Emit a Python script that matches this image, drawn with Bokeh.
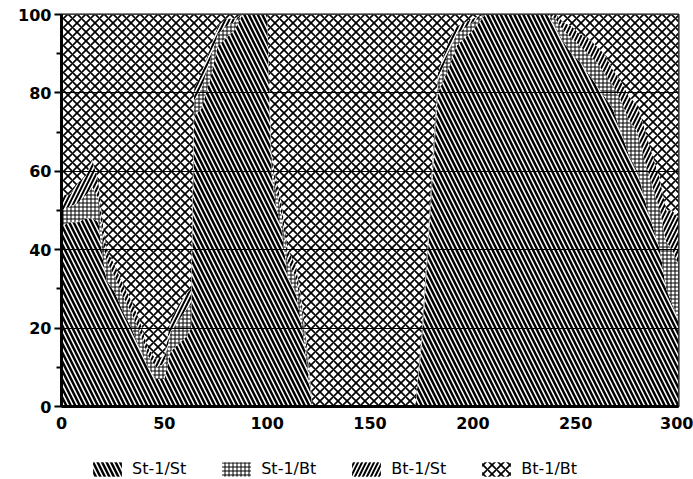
from bokeh.plotting import figure
from bokeh.models import ColumnDataSource, Legend, LegendItem, FixedTicker
from bokeh.layouts import column
from bokeh.transform import stack
from bokeh.embed import file_html
from bokeh.resources import INLINE

# ---- data (percent shares) ----
x = [0, 4, 8, 12, 15, 18, 20, 22, 26, 30, 34, 38, 42, 46, 50, 53, 57, 61, 63,
     64.5, 68, 72, 76, 80, 84, 88, 100, 102, 104, 107, 110, 114, 117, 120, 122,
     172, 175, 178, 180, 183, 188, 192, 200, 206, 236, 240, 244, 248, 252, 256,
     260, 264, 268, 272, 276, 280, 284, 288, 291, 294, 297, 300]
st_st = [46, 47, 47, 48, 48, 47, 38, 32, 29, 24, 20, 15, 10, 7, 7, 14, 16, 18, 20,
         74, 76, 83, 92, 94, 96, 100, 100, 60, 52, 45, 33, 29, 20, 8, 0,
         0, 15, 38, 55, 80, 86, 92, 96, 100, 100, 97, 93, 90, 88, 85,
         82, 79, 76, 70, 64, 60, 52, 45, 40, 30, 26, 22]
st_bt = [4, 4, 5, 6, 8, 6, 5, 5, 4, 4, 4, 4, 3, 3, 4, 5, 6, 7, 6,
         4, 5, 5, 3, 3, 2, 0, 0, 3, 4, 4, 4, 4, 4, 3, 0,
         0, 2, 2, 3, 3, 4, 3, 2, 0, 0, 2, 3, 4, 4, 5,
         6, 6, 6, 8, 9, 10, 10, 10, 10, 12, 14, 14]
bt_st = [4, 3, 5, 5, 7, 4, 4, 3, 3, 3, 3, 3, 2, 2, 2, 3, 4, 4, 4,
         3, 4, 3, 2, 2, 1, 0, 0, 2, 3, 3, 3, 3, 2, 2, 0,
         0, 1, 2, 2, 2, 3, 2, 1, 0, 0, 1, 2, 3, 3, 4,
         4, 5, 4, 5, 6, 7, 8, 8, 8, 8, 10, 12]
bt_bt = [46, 46, 43, 41, 37, 43, 53, 60, 64, 69, 73, 78, 85, 88, 87, 78, 74, 71, 70,
         19, 15, 9, 3, 1, 1, 0, 0, 35, 41, 48, 60, 64, 74, 87, 100,
         100, 82, 58, 40, 15, 7, 3, 1, 0, 0, 0, 2, 3, 5, 6,
         8, 10, 14, 17, 21, 23, 30, 37, 42, 50, 50, 52]
series = ["st_st", "st_bt", "bt_st", "bt_bt"]
labels = ["St-1/St", "St-1/Bt", "Bt-1/St", "Bt-1/Bt"]
x_ticks = [0, 50, 100, 150, 200, 250, 300]
y_ticks = [0, 20, 40, 60, 80, 100]

source = ColumnDataSource(dict(x=x, st_st=st_st, st_bt=st_bt, bt_st=bt_st, bt_bt=bt_bt))

p = figure(width=693, height=440, x_range=(0, 300), y_range=(0, 100),
           output_backend="svg", toolbar_location=None,
           min_border_left=61, min_border_top=14, min_border_right=15, min_border_bottom=34,
           background_fill_color="white", border_fill_color="white")

styles = [
    dict(hatch_pattern="\\", hatch_scale=9, hatch_weight=2.5),
    dict(hatch_pattern="+", hatch_scale=4, hatch_weight=1),
    dict(hatch_pattern="/", hatch_scale=8, hatch_weight=2),
    dict(hatch_pattern="x", hatch_scale=9, hatch_weight=1.7),
]
for i, name in enumerate(series):
    p.varea(x="x", y1=stack(*series[:i]) if i else 0, y2=stack(*series[:i + 1]),
            source=source, fill_color="white", hatch_color="black", **styles[i])

p.ygrid.level = "overlay"
p.ygrid.grid_line_color = "black"
p.ygrid.grid_line_width = 1
p.ygrid.ticker = FixedTicker(ticks=[20, 40, 60, 80])
p.xgrid.visible = False

p.outline_line_color = "black"
p.outline_line_width = 2

p.xaxis.ticker = FixedTicker(ticks=x_ticks)
p.yaxis.ticker = FixedTicker(ticks=y_ticks, minor_ticks=[10, 30, 50, 70, 90])
for ax in (p.xaxis[0], p.yaxis[0]):
    ax.major_label_text_font = "DejaVu Sans"
    ax.major_label_text_font_style = "bold"
    ax.major_label_text_font_size = "16px"
    ax.major_label_text_color = "black"
    ax.axis_line_color = "black"
    ax.axis_line_width = 3
p.xaxis.major_tick_line_color = None
p.xaxis.minor_tick_line_color = None
p.xaxis.major_label_standoff = 4
p.yaxis.major_tick_out = 7
p.yaxis.major_tick_in = 0
p.yaxis.minor_tick_out = 5
p.yaxis.minor_tick_in = 0
p.yaxis.major_tick_line_width = 2
p.yaxis.minor_tick_line_width = 2
p.yaxis.major_label_standoff = 3

# legend strip below the chart (same stacked areas, kept outside this strip's y range)
q = figure(width=693, height=39, x_range=(0, 300), y_range=(200, 300),
           output_backend="svg", toolbar_location=None,
           x_axis_location=None, y_axis_location=None,
           min_border=0, outline_line_color=None,
           background_fill_color="white", border_fill_color="white")
q.grid.visible = False
legend_items = []
for i, name in enumerate(series):
    key = q.varea(x="x", y1=stack(*series[:i]) if i else 0, y2=stack(*series[:i + 1]),
                  source=source, fill_color="white", hatch_color="black", **styles[i])
    legend_items.append(LegendItem(label=labels[i], renderers=[key]))
legend = Legend(items=legend_items, orientation="horizontal", location=(28, 1),
                label_text_font="DejaVu Sans", label_text_font_size="16px",
                label_text_color="black", glyph_width=36, glyph_height=18,
                spacing=32, label_standoff=7, border_line_color=None,
                background_fill_alpha=0, padding=2, margin=0)
q.add_layout(legend, "center")

layout = column(p, q, spacing=0)
open("out.html", "w").write(file_html(layout, INLINE))
